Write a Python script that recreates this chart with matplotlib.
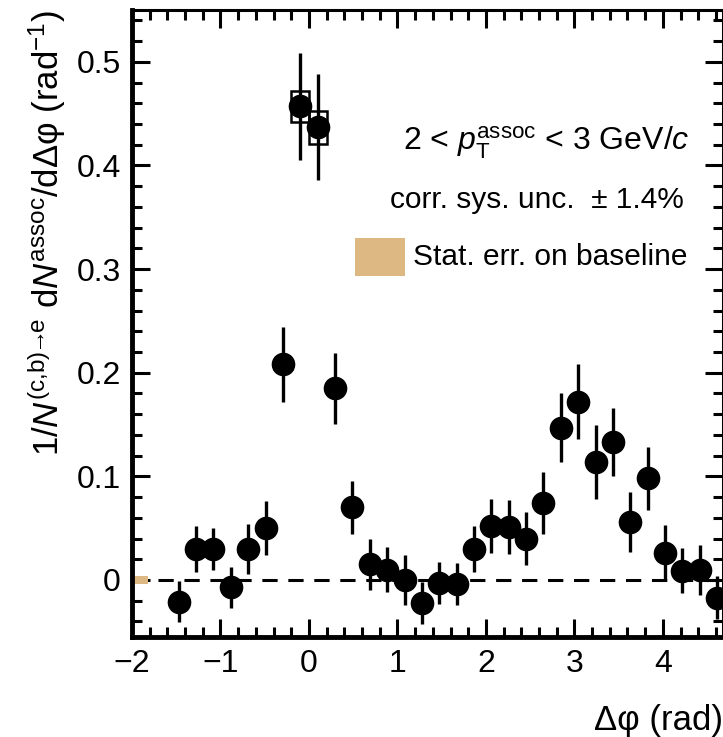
import matplotlib
matplotlib.use('Agg')
import matplotlib.pyplot as plt
from matplotlib.patches import Rectangle
import numpy as np

plt.rcParams['font.family'] = ['Liberation Sans', 'DejaVu Sans']
plt.rcParams['mathtext.fontset'] = 'custom'
plt.rcParams['mathtext.rm'] = 'Liberation Sans'
plt.rcParams['mathtext.it'] = 'Liberation Sans:italic'
plt.rcParams['mathtext.bf'] = 'Liberation Sans:bold'

# delta phi bin centres (rad)
dphi = [-1.47, -1.28, -1.08, -0.88, -0.69, -0.49, -0.29, -0.10,
        0.10, 0.29, 0.49, 0.69, 0.88, 1.08, 1.28, 1.47,
        1.67, 1.87, 2.06, 2.26, 2.45, 2.65, 2.85, 3.04,
        3.24, 3.44, 3.63, 3.83, 4.03, 4.22, 4.42, 4.61]
yields = [-0.021, 0.030, 0.030, -0.007, 0.030, 0.050, 0.208, 0.457,
          0.437, 0.185, 0.070, 0.015, 0.010, 0.000, -0.022, -0.003,
          -0.004, 0.030, 0.052, 0.051, 0.040, 0.074, 0.147, 0.172,
          0.114, 0.133, 0.056, 0.098, 0.026, 0.009, 0.010, -0.017]
stat_err = [0.020, 0.022, 0.020, 0.020, 0.024, 0.026, 0.036, 0.052,
            0.051, 0.034, 0.026, 0.025, 0.022, 0.024, 0.020, 0.020,
            0.020, 0.022, 0.026, 0.026, 0.026, 0.030, 0.033, 0.036,
            0.036, 0.033, 0.029, 0.030, 0.027, 0.022, 0.024, 0.021]
sys_err = [0.001, 0.002, 0.002, 0.001, 0.002, 0.002, 0.004, 0.015,
           0.016, 0.004, 0.002, 0.001, 0.001, 0.001, 0.001, 0.001,
           0.001, 0.002, 0.002, 0.002, 0.002, 0.003, 0.003, 0.004,
           0.003, 0.003, 0.002, 0.003, 0.001, 0.001, 0.001, 0.001]
baseline_err = 0.0035
box_half = 0.1
tan = '#ddb883'

fig = plt.figure(figsize=(7.23, 7.37), dpi=100)
ax = fig.add_axes([0.1826, 0.1357, 0.8174, 0.8507])

# systematic boxes
for x, y, s in zip(dphi, yields, sys_err):
    ax.add_patch(Rectangle((x - box_half, y - s), 2 * box_half, 2 * s,
                           fill=False, edgecolor='black', lw=1.8, zorder=3))

ax.errorbar(dphi, yields, yerr=stat_err, fmt='o', color='black',
            markersize=16, elinewidth=2.4, capsize=0, zorder=4)

ax.axhline(0, color='black', lw=2.2, ls=(0, (5, 3.5)), zorder=2)
ax.fill_between([-2, -1.82], -baseline_err, baseline_err, color=tan, lw=0, zorder=2)

ax.set_xlim(-2, 4.68)
ax.set_ylim(-0.055, 0.55)
ax.set_xticks([-2, -1, 0, 1, 2, 3, 4])
ax.set_xticklabels(['\u22122', '\u22121', '0', '1', '2', '3', '4'])
ax.set_yticks([0, 0.1, 0.2, 0.3, 0.4, 0.5])
ax.set_yticklabels(['0', '0.1', '0.2', '0.3', '0.4', '0.5'])
ax.set_xticks(np.arange(-2, 4.7, 0.2), minor=True)
ax.set_yticks(np.arange(-0.04, 0.55, 0.02), minor=True)
ax.tick_params(which='both', direction='in', top=True, right=True,
               labelsize=23, width=2.2)
ax.tick_params(which='major', length=13)
ax.tick_params(which='minor', length=7)
ax.tick_params(axis='x', pad=9)
ax.tick_params(axis='y', pad=8)
for side in ['top', 'right']:
    ax.spines[side].set_linewidth(2.2)
for side in ['left', 'bottom']:
    ax.spines[side].set_linewidth(3.5)

ax.set_xlabel('\u0394\u03c6 (rad)', fontsize=25, loc='right', labelpad=18)
ax.set_ylabel(r'$1/N^{\mathrm{(c{,}b)}\!\!\rightarrow\!\!\mathrm{e}}\ \mathrm{d}N^{\mathrm{assoc}}/\mathrm{d}$'
              '\u0394\u03c6 (rad$^{-1}$)', fontsize=25, loc='top', labelpad=6)

ax.text(0.944, 0.788, r'2 < $p_{\mathrm{T}}^{\mathrm{assoc}}$ < 3 GeV/$c$',
        transform=ax.transAxes, ha='right', va='center', fontsize=23)
ax.text(0.934, 0.697, 'corr. sys. unc.  \u00b1 1.4%',
        transform=ax.transAxes, ha='right', va='center', fontsize=21.5)
ax.add_patch(Rectangle((0.377, 0.576), 0.085, 0.061, transform=ax.transAxes,
                       facecolor=tan, edgecolor='none', zorder=5))
ax.text(0.475, 0.606, 'Stat. err. on baseline',
        transform=ax.transAxes, ha='left', va='center', fontsize=21.5)

fig.savefig('out.png', dpi=100)
